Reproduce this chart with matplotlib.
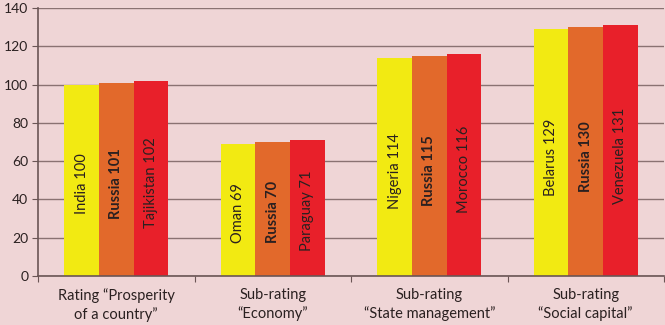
import numpy as np
import matplotlib
matplotlib.use("Agg")
import matplotlib.pyplot as plt

plt.rcParams['font.family'] = ['Lato', 'DejaVu Sans']

categories = ['Rating \u201cProsperity\nof a country\u201d', 'Sub-rating\n\u201cEconomy\u201d',
              'Sub-rating\n\u201cState management\u201d', 'Sub-rating\n\u201cSocial capital\u201d']
left_names = ['India', 'Oman', 'Nigeria', 'Belarus']
left_vals = [100, 69, 114, 129]
russia_vals = [101, 70, 115, 130]
right_names = ['Tajikistan', 'Paraguay', 'Morocco', 'Venezuela']
right_vals = [102, 71, 116, 131]

BG = '#efd5d6'
colors = ['#f2ea12', '#e2692b', '#e8202a']

fig = plt.figure(figsize=(6.65, 3.25), dpi=100)
fig.patch.set_facecolor(BG)
ax = fig.add_axes([38/665, 49/325, 626/665, 268/325])
ax.set_facecolor(BG)

x = np.arange(len(categories))
w = 0.222
series = [(left_names, left_vals, False), (['Russia']*4, russia_vals, True), (right_names, right_vals, False)]
for k, (names, vals, bold) in enumerate(series):
    pos = x + (k - 1)*w
    ax.bar(pos, vals, width=w, color=colors[k], zorder=2)
    for p, n, v in zip(pos, names, vals):
        ax.text(p, v*0.48, f'{n} {v}', rotation=90, ha='center', va='center',
                fontsize=10.5, color='#2a2020', fontweight='bold' if bold else 'normal', zorder=3)

ax.set_xlim(-0.5, 3.5)
ax.set_ylim(0, 140)
ax.set_yticks(range(0, 141, 20))
ax.yaxis.grid(True, color='#8a7272', linewidth=1)
ax.set_axisbelow(True)
ax.set_xticks([-0.5, 0.5, 1.5, 2.5, 3.5])
ax.set_xticklabels([])
ax.set_xticks(x, minor=True)
ax.set_xticklabels(categories, minor=True, fontsize=10.5, color='#2a2020', linespacing=1.3)
ax.tick_params(axis='x', which='minor', length=0, pad=9)
ax.tick_params(axis='x', which='major', length=4, color='#6a5555')
ax.tick_params(axis='y', length=4, color='#6a5555', labelsize=10, labelcolor='#2a2020', pad=3)
for s in ['top', 'right']:
    ax.spines[s].set_visible(False)
for s in ['left', 'bottom']:
    ax.spines[s].set_color('#6a5555')
    ax.spines[s].set_linewidth(1.2)

fig.savefig('out.png', dpi=100, facecolor=BG)
